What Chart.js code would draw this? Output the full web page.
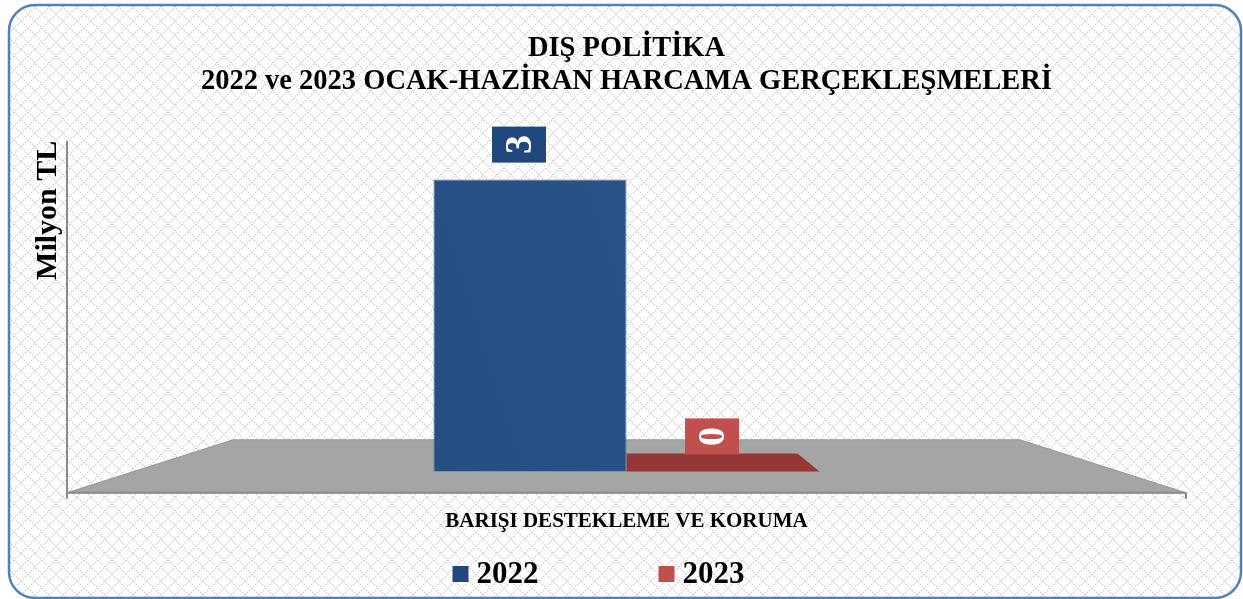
<!DOCTYPE html>
<html lang="tr">
<head>
<meta charset="utf-8">
<title>DIŞ POLİTİKA</title>
<script src="https://cdn.jsdelivr.net/npm/chart.js@4.4.0/dist/chart.umd.min.js"></script>
<style>
  html, body { margin: 0; padding: 0; background: #fff; }
  #wrap { width: 1243px; height: 599px; }
</style>
</head>
<body>
<div id="wrap"><canvas id="myChart" width="1243" height="599"></canvas></div>
<script>
const categories = ['BARIŞI DESTEKLEME VE KORUMA']
const seriesNames = ['2022', '2023']
const values2022 = [3]
const values2023 = [0]
const titleLines = ['DIŞ POLİTİKA', '2022 ve 2023 OCAK-HAZİRAN HARCAMA GERÇEKLEŞMELERİ']
const yTitle = 'Milyon TL'
const yRange = [-0.22, 3.4]

const serif = "'Liberation Serif', 'Times New Roman', serif"
const legendColors = ['#1f497d', '#c0504d']
const floorDepth = 53
const floorInset = 166
const barDepth = 18

// helper: rounded rect path
function roundPath(ctx, x, y, w, h, r) {
  ctx.beginPath()
  ctx.moveTo(x + r, y)
  ctx.lineTo(x + w - r, y)
  ctx.arcTo(x + w, y, x + w, y + r, r)
  ctx.lineTo(x + w, y + h - r)
  ctx.arcTo(x + w, y + h, x + w - r, y + h, r)
  ctx.lineTo(x + r, y + h)
  ctx.arcTo(x, y + h, x, y + h - r, r)
  ctx.lineTo(x, y + r)
  ctx.arcTo(x, y, x + r, y, r)
  ctx.closePath()
}

// vanishing point of the floor, used for the flat bar top
function vanishY(area) {
  const cx = (area.left + area.right) / 2
  return area.bottom - floorDepth * (cx - area.left) / floorInset
}

const panelBg = {
  id: 'panelBg',
  beforeDraw(chart) {
    const ctx = chart.ctx
    const tile = document.createElement('canvas')
    tile.width = 14
    tile.height = 14
    const t = tile.getContext('2d')
    t.fillStyle = '#fff'
    t.fillRect(0, 0, 14, 14)
    t.strokeStyle = '#cfcfcf'
    t.lineWidth = 1.4
    t.setLineDash([1.4, 1.4])
    t.beginPath()
    t.moveTo(0, 0); t.lineTo(14, 14)
    t.moveTo(14, 0); t.lineTo(0, 14)
    t.stroke()
    ctx.save()
    roundPath(ctx, 9, 5, 1232, 593, 26)
    ctx.fillStyle = ctx.createPattern(tile, 'repeat')
    ctx.fill()
    ctx.lineWidth = 2.5
    ctx.strokeStyle = '#4f81bd'
    ctx.stroke()
    ctx.restore()
  }
}

const floor3d = {
  id: 'floor3d',
  beforeDatasetsDraw(chart) {
    const ctx = chart.ctx
    const a = chart.chartArea
    const back = a.bottom - floorDepth
    ctx.save()
    ctx.beginPath()
    ctx.moveTo(a.left, a.bottom)
    ctx.lineTo(a.left + floorInset, back)
    ctx.lineTo(a.right - floorInset, back)
    ctx.lineTo(a.right, a.bottom)
    ctx.closePath()
    ctx.fillStyle = '#a5a5a5'
    ctx.fill()
    ctx.strokeStyle = '#979797'
    ctx.lineWidth = 1
    ctx.stroke()

    // axis lines
    ctx.strokeStyle = '#8a8a8a'
    ctx.lineWidth = 2
    ctx.beginPath()
    ctx.moveTo(a.left, a.top)
    ctx.lineTo(a.left, a.bottom + 6)
    ctx.moveTo(a.left, a.bottom)
    ctx.lineTo(a.right, a.bottom)
    ctx.moveTo(a.right, a.bottom)
    ctx.lineTo(a.right, a.bottom + 6)
    ctx.stroke()

    // flat top face for zero bars
    const vy = vanishY(a)
    const cx = (a.left + a.right) / 2
    chart.data.datasets.forEach((ds, i) => {
      const meta = chart.getDatasetMeta(i)
      meta.data.forEach((el, j) => {
        if (ds.data[j] !== 0) return
        const l = el.x - el.width / 2
        const r = el.x + el.width / 2
        const f = el.base
        const b = f - barDepth
        const k = (vy - b) / (vy - f)
        ctx.beginPath()
        ctx.moveTo(l, f)
        ctx.lineTo(r, f)
        ctx.lineTo(cx + (r - cx) * k, b)
        ctx.lineTo(cx + (l - cx) * k, b)
        ctx.closePath()
        ctx.fillStyle = ds.topColor
        ctx.fill()
      })
    })
    ctx.restore()
  }
}

const boxLabels = {
  id: 'boxLabels',
  afterDatasetsDraw(chart) {
    const ctx = chart.ctx
    chart.data.datasets.forEach((ds, i) => {
      const meta = chart.getDatasetMeta(i)
      meta.data.forEach((el, j) => {
        const top = Math.min(el.y, el.base)
        const bx = el.x - 11
        const by = top - 35
        ctx.save()
        ctx.fillStyle = legendColors[i]
        ctx.fillRect(bx - 27, by - 18, 54, 36)
        ctx.translate(bx, by)
        ctx.rotate(-Math.PI / 2)
        ctx.fillStyle = '#fff'
        ctx.font = 'bold 38px ' + serif
        ctx.textAlign = 'center'
        ctx.textBaseline = 'middle'
        ctx.fillText(String(ds.data[j]), 0, 2)
        ctx.restore()
      })
    })
  }
}

const bottomLegend = {
  id: 'bottomLegend',
  afterDraw(chart) {
    const ctx = chart.ctx
    ctx.save()
    ctx.font = 'bold 31px ' + serif
    ctx.textBaseline = 'middle'
    const sq = 16, gap = 8, itemGap = 120
    const widths = seriesNames.map((s) => sq + gap + ctx.measureText(s).width)
    const total = widths.reduce((p, c) => p + c, 0) + itemGap * (widths.length - 1)
    let x = chart.width / 2 - 23 - total / 2
    const y = 574
    seriesNames.forEach((s, i) => {
      ctx.fillStyle = legendColors[i]
      ctx.fillRect(x, y - sq / 2, sq, sq)
      ctx.fillStyle = '#000'
      ctx.fillText(s, x + sq + gap, y + 1)
      x += widths[i] + itemGap
    })
    ctx.restore()
  }
}

let ctx1 = document.getElementById('myChart')
const data1 = {
  labels: categories,
  datasets: [{
    label: seriesNames[0],
    data: values2022,
    backgroundColor: function (c) {
      const a = c.chart.chartArea
      if (!a) return '#26508a'
      const g = c.chart.ctx.createLinearGradient(a.right, a.top, a.left, a.bottom)
      g.addColorStop(0, '#2e5b90')
      g.addColorStop(1, '#224a7e')
      return g
    },
    borderColor: '#4a6e9c',
    borderWidth: 1,
    topColor: '#2b568a'
  }, {
    label: seriesNames[1],
    data: values2023,
    backgroundColor: '#953735',
    borderWidth: 0,
    topColor: '#953735'
  }]
}

const config1 = {
  type: 'bar',
  data: data1,
  plugins: [panelBg, floor3d, boxLabels, bottomLegend],
  options: {
    responsive: false,
    animation: false,
    layout: {
      padding: { top: 32, left: 30, right: 57, bottom: 49 }
    },
    datasets: {
      bar: { categoryPercentage: 0.345, barPercentage: 1 }
    },
    plugins: {
      legend: { display: false },
      tooltip: { enabled: false },
      title: {
        display: true,
        fullSize: false,
        text: titleLines,
        color: '#000',
        font: { family: serif, size: 28.5, weight: 'bold', lineHeight: 1.17 },
        padding: { top: 0, bottom: 42 }
      }
    },
    scales: {
      x: {
        grid: { display: false, drawTicks: false },
        border: { display: false },
        ticks: {
          color: '#000',
          padding: 16,
          font: { family: serif, size: 21, weight: 'bold' }
        }
      },
      y: {
        min: yRange[0],
        max: yRange[1],
        grid: { display: false, drawTicks: false },
        border: { display: false },
        ticks: { display: false },
        title: {
          display: true,
          align: 'end',
          text: yTitle,
          color: '#000',
          font: { family: serif, size: 30, weight: 'bold', lineHeight: 1.2 },
          padding: { top: 0, bottom: 1 }
        }
      }
    }
  }
}
const myChart1 = new Chart(ctx1, config1)
</script>
</body>
</html>
